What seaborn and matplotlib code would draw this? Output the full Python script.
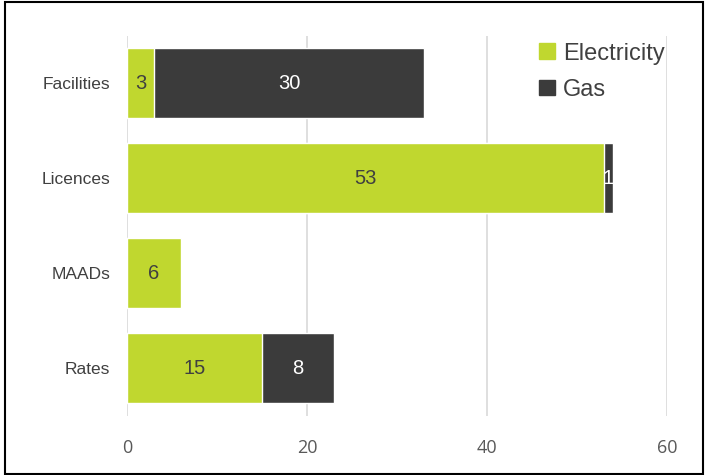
import pandas as pd
import seaborn as sns
import matplotlib.pyplot as plt
from matplotlib.patches import Rectangle, Patch

categories = ['Facilities', 'Licences', 'MAADs', 'Rates']
electricity = [3, 53, 6, 15]
gas = [30, 1, 0, 8]

elec_color = '#C0D72F'
gas_color = '#3B3B3B'

df = pd.DataFrame({'category': categories, 'Electricity': electricity, 'Gas': gas})
df['total'] = df['Electricity'] + df['Gas']

sns.set_style("white")
plt.rcParams['font.family'] = ['Liberation Sans', 'DejaVu Sans']

fig = plt.figure(figsize=(7.05, 4.75), dpi=100)
ax = fig.add_axes([0.180, 0.125, 0.766, 0.800])

#Gas drawn as the full stack, electricity on top of it
sns.barplot(data=df, y='category', x='total', orient='h', color=gas_color, width=0.737, saturation=1, ax=ax)
sns.barplot(data=df, y='category', x='Electricity', orient='h', color=elec_color, width=0.737, saturation=1, ax=ax)

#Labels
elec_bars = ax.containers[1]
ax.bar_label(elec_bars, labels=[str(v) for v in electricity], label_type='center', fontsize=14.5, color='#404040')
for bar, e, g in zip(ax.containers[0], electricity, gas):
    if g > 0:
        ax.text(e + g / 2, bar.get_y() + bar.get_height() / 2, str(g), ha='center', va='center', fontsize=14.5, color='white')

ax.set_xlim(0, 60)
ax.set_ylim(3.5, -0.5)
ax.set_xticks([0, 20, 40, 60])
ax.xaxis.grid(True, color='#D9D9D9', linewidth=1.2)
ax.set_axisbelow(True)
for s in ax.spines.values():
    s.set_visible(False)
ax.set_xlabel('')
ax.set_ylabel('')
ax.tick_params(axis='x', length=0, pad=17, labelsize=13, labelcolor='#595959')
ax.tick_params(axis='y', length=0, pad=12, labelsize=12.5, labelcolor='#404040')
for t in ax.get_xticklabels():
    t.set_fontfamily(['Open Sans', 'DejaVu Sans'])

#Legend
handles = [Patch(color=elec_color, label='Electricity'), Patch(color=gas_color, label='Gas')]
fig.legend(handles=handles, loc='upper left', bbox_to_anchor=(0.735, 0.955), frameon=False,
           fontsize=17, handlelength=0.65, handleheight=0.65, handletextpad=0.35, labelspacing=0.6,
           labelcolor='#404040')

#Border
fig.patches.append(Rectangle((0.007, 0.002), 0.990, 0.993, transform=fig.transFigure,
                             fill=False, edgecolor='black', linewidth=1.5))

fig.savefig('out.png', dpi=100)
